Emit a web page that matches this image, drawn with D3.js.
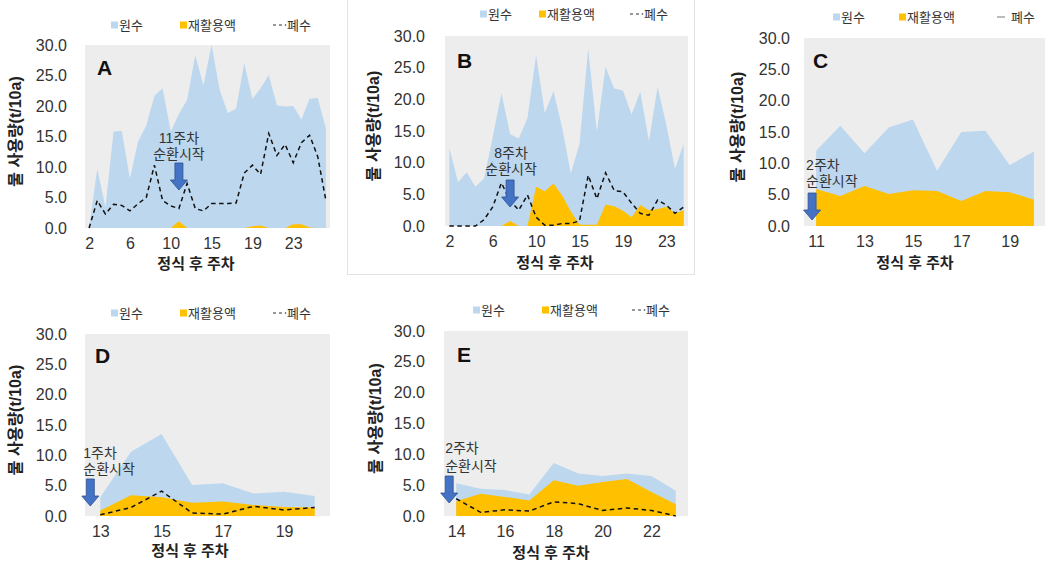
<!DOCTYPE html>
<html>
<head>
<meta charset="utf-8">
<script src="https://cdn.jsdelivr.net/npm/d3@7"></script>
<style>
  body { margin: 0; background: #fff; }
  svg text { font-family: "Liberation Sans", "Noto Sans CJK KR", sans-serif; }
</style>
</head>
<body>
<svg id="chart" width="1045" height="563"></svg>
<script>
// ---- data (t/10a) ----
// A: 30 sampling points, x labels shown every 5th point
const ticksA = ["2", "6", "10", "15", "19", "23"];
const rawA = [0, 9.7, 3.4, 15.8, 15.9, 8.1, 14.2, 16.8, 21.7, 22.9, 15.8, 18.7, 21.0, 28.3, 23.4, 30.0,
              22.6, 18.8, 19.6, 27.0, 21.2, 22.9, 25.1, 20.1, 19.9, 20.0, 17.8, 21.2, 21.3, 16.3];
const recA = [0, 0, 0, 0, 0, 0, 0, 0, 0, 0, 0, 1.1, 0, 0, 0, 0, 0, 0, 0, 0,
              0.3, 0.4, 0, 0, 0, 0.6, 0.6, 0.1, 0, 0];
const wasteA = [0, 4.5, 2.3, 3.9, 3.7, 2.8, 4.0, 5.0, 10.3, 4.5, 3.6, 3.2, 7.3, 3.2, 2.8, 4.0,
                4.0, 4.0, 4.1, 9.0, 10.3, 8.8, 15.5, 11.9, 13.7, 10.7, 14.0, 15.2, 11.7, 4.5];

// B: 28 sampling points, x labels shown every 5th point
const ticksB = ["2", "6", "10", "15", "19", "23"];
const rawB = [12.3, 6.9, 8.5, 6.2, 7.5, 14.0, 21.0, 14.5, 13.8, 17.0, 27.0, 17.8, 21.3, 15.5,
              8.3, 13.0, 28.0, 14.9, 25.1, 21.7, 21.4, 17.6, 21.2, 13.4, 22.0, 16.0, 9.0, 13.0];
const recB = [0, 0, 0, 0, 0, 0, 0, 0.8, 0, 0, 6.2, 5.5, 6.7, 4.8,
              2.3, 0.2, 0.2, 0.2, 3.4, 3.1, 2.4, 1.4, 3.3, 2.5, 2.7, 3.0, 2.0, 2.5];
const wasteB = [0, 0, 0, 0, 1.0, 3.0, 6.8, 4.0, 2.5, 4.9, 1.4, 0.1, 0.1, 0.4,
                0.4, 0.8, 8.0, 4.3, 8.4, 5.6, 5.4, 3.6, 2.0, 1.7, 4.1, 3.3, 2.0, 3.0];

// C: weeks 11-20 (no 폐수 series drawn)
const weeksC = [11, 12, 13, 14, 15, 16, 17, 18, 19, 20];
const rawC = [12.0, 16.0, 11.6, 15.7, 17.0, 8.8, 15.0, 15.2, 9.7, 11.9];
const recC = [5.9, 4.8, 6.4, 5.1, 5.7, 5.6, 4.0, 5.6, 5.4, 4.2];

// D: weeks 13-20
const weeksD = [13, 14, 15, 16, 17, 18, 19, 20];
const rawD = [3.1, 10.6, 13.5, 5.1, 5.4, 3.7, 4.0, 3.3];
const recD = [0.9, 3.4, 3.1, 2.2, 2.4, 1.8, 1.5, 1.4];
const wasteD = [0.2, 1.4, 4.1, 0.5, 0.3, 1.6, 1.0, 1.4];

// E: weeks 14-23
const weeksE = [14, 15, 16, 17, 18, 19, 20, 21, 22, 23];
const rawE = [5.3, 4.4, 4.2, 3.5, 8.6, 6.9, 6.5, 6.9, 6.5, 4.1];
const recE = [2.4, 3.6, 3.1, 2.5, 5.8, 4.9, 5.5, 6.0, 3.9, 1.9];
const wasteE = [2.8, 0.6, 1.0, 0.8, 2.3, 2.0, 0.9, 1.3, 0.9, 0];

const yTicks = [0, 5, 10, 15, 20, 25, 30];
const legendNames = ["원수", "재활용액", "폐수"];
const yTitle = "물 사용량(t/10a)";
const xTitle = "정식 후 주차";

const colRaw = "#bdd7ee", colRec = "#ffc000", plotBg = "#ededed", arrowCol = "#4472c4";

// ---- layout ----
const panels = [
  { letter: "A", raw: rawA, rec: recA, waste: wasteA, tickStep: 5, tickText: ticksA,
    box: [85, 45, 330, 228], yLabX: 67, yTitX: 15, xTit: [196, 263], leg: [111, 180, 273], legY: 25,
    let: [97, 75], note: { i: 11, dx: 0, tip: 190, anchor: "middle", tx: 0, ty: [138, 154], text: ["11주차", "순환시작"] } },
  { letter: "B", raw: rawB, rec: recB, waste: wasteB, tickStep: 5, tickText: ticksB,
    box: [445, 36, 688, 226], yLabX: 425, yTitX: 373, xTit: [555, 262], leg: [480, 539, 630], legY: 14,
    let: [457, 68], note: { i: 7, dx: 0, tip: 207, anchor: "middle", tx: 1, ty: [153, 169], text: ["8주차", "순환시작"] } },
  { letter: "C", raw: rawC, rec: recC, waste: null, tickStep: 2, tickText: weeksC.filter((d, i) => i % 2 === 0),
    box: [804, 38, 1046, 226], yLabX: 790, yTitX: 737, xTit: [915, 262], leg: [833, 899, 997], legY: 17,
    let: [813, 68], note: { i: 0, dx: -4, tip: 220, anchor: "start", tx: -6, ty: [165, 181], text: ["2주차", "순환시작"] } },
  { letter: "D", raw: rawD, rec: recD, waste: wasteD, tickStep: 2, tickText: weeksD.filter((d, i) => i % 2 === 0),
    box: [85, 334, 330, 516], yLabX: 67, yTitX: 15, xTit: [190, 550], leg: [111, 180, 273], legY: 313,
    let: [95, 363], note: { i: 0, dx: -10, tip: 506, anchor: "start", tx: -7, ty: [453, 469], text: ["1주차", "순환시작"] } },
  { letter: "E", raw: rawE, rec: recE, waste: wasteE, tickStep: 2, tickText: weeksE.filter((d, i) => i % 2 === 0),
    box: [444, 331, 688, 516], yLabX: 425, yTitX: 375, xTit: [551, 552], leg: [473, 542, 632], legY: 310,
    let: [457, 362], note: { i: 0, dx: -7, tip: 503, anchor: "start", tx: -4, ty: [448, 466], text: ["2주차", "순환시작"] } }
];

const svg = d3.select("#chart");

// light frame around panel B
svg.append("rect")
  .attr("x", 347.5).attr("y", -1).attr("width", 347).attr("height", 275.5)
  .attr("fill", "none").attr("stroke", "#e3e3e3");

panels.forEach(p => {
  const [x0, y0, x1, y1] = p.box;
  const n = p.raw.length;
  const g = svg.append("g");

  const x = d3.scalePoint().domain(d3.range(n)).range([x0, x1]).padding(0.5);
  const y = d3.scaleLinear().domain([0, 30]).range([y1, y0]);

  g.append("rect").attr("x", x0).attr("y", y0)
    .attr("width", x1 - x0).attr("height", y1 - y0).attr("fill", plotBg);

  const area = vals => d3.area().x((d, i) => x(i)).y0(y(0)).y1(d => y(d))(vals);
  g.append("path").attr("d", area(p.raw)).attr("fill", colRaw);
  g.append("path").attr("d", area(p.rec)).attr("fill", colRec);

  if (p.waste) {
    g.append("path")
      .attr("d", d3.line().x((d, i) => x(i)).y(d => y(d))(p.waste))
      .attr("fill", "none").attr("stroke", "#111").attr("stroke-width", 1.5)
      .attr("stroke-dasharray", "4.5,3.5");
  }

  // y axis
  const yAxis = g.append("g")
    .attr("transform", `translate(${p.yLabX},0)`)
    .call(d3.axisLeft(y).tickValues(yTicks).tickSize(0).tickPadding(0).tickFormat(d3.format(".1f")));
  yAxis.select(".domain").remove();
  yAxis.selectAll("text").attr("font-size", 16).attr("fill", "#333")
    .attr("font-family", "Liberation Sans, sans-serif");

  // x axis
  const tickIdx = d3.range(0, n, p.tickStep).slice(0, p.tickText.length);
  const xAxis = g.append("g")
    .attr("transform", `translate(0,${y1 + 10})`)
    .call(d3.axisBottom(x).tickValues(tickIdx).tickSize(0).tickPadding(0)
      .tickFormat((d, i) => p.tickText[i]));
  xAxis.select(".domain").remove();
  xAxis.selectAll("text").attr("font-size", 16).attr("fill", "#333")
    .attr("font-family", "Liberation Sans, sans-serif");

  // titles
  g.append("text")
    .attr("transform", `translate(${p.yTitX},${(y0 + y1) / 2 - 5}) rotate(-90)`)
    .attr("text-anchor", "middle").attr("dominant-baseline", "central")
    .attr("font-size", 16).attr("font-weight", "bold").attr("fill", "#222")
    .text(yTitle);
  g.append("text")
    .attr("x", p.xTit[0]).attr("y", p.xTit[1])
    .attr("text-anchor", "middle").attr("dominant-baseline", "central")
    .attr("font-size", 15).attr("font-weight", "bold").attr("fill", "#222")
    .text(xTitle);

  // panel letter
  g.append("text").attr("x", p.let[0]).attr("y", p.let[1])
    .attr("font-size", 21).attr("font-weight", "bold").attr("fill", "#111")
    .text(p.letter);

  // legend
  const ly = p.legY;
  [colRaw, colRec].forEach((c, k) => {
    g.append("rect").attr("x", p.leg[k]).attr("y", ly - 3.5).attr("width", 7).attr("height", 7).attr("fill", c);
    g.append("text").attr("x", p.leg[k] + 8).attr("y", ly)
      .attr("dominant-baseline", "central").attr("font-size", 13).attr("fill", "#333")
      .text(legendNames[k]);
  });
  if (p.waste) {
    g.append("line").attr("x1", p.leg[2]).attr("x2", p.leg[2] + 10).attr("y1", ly).attr("y2", ly)
      .attr("stroke", "#333").attr("stroke-width", 1.2).attr("stroke-dasharray", "3,3");
    g.append("circle").attr("cx", p.leg[2] + 12.5).attr("cy", ly).attr("r", 0.8).attr("fill", "#333");
  } else {
    g.append("line").attr("x1", p.leg[2]).attr("x2", p.leg[2] + 8).attr("y1", ly).attr("y2", ly)
      .attr("stroke", "#777").attr("stroke-width", 1);
  }
  g.append("text").attr("x", p.leg[2] + 14).attr("y", ly)
    .attr("dominant-baseline", "central").attr("font-size", 13).attr("fill", "#333")
    .text(legendNames[2]);

  // recirculation start annotation
  const nt = p.note;
  const cx = x(nt.i) + nt.dx, tip = nt.tip;
  g.append("path")
    .attr("d", `M${cx - 4},${tip - 27}L${cx + 4},${tip - 27}L${cx + 4},${tip - 10}L${cx + 8.5},${tip - 10}` +
               `L${cx},${tip}L${cx - 8.5},${tip - 10}L${cx - 4},${tip - 10}Z`)
    .attr("fill", arrowCol).attr("stroke", "#2f528f").attr("stroke-width", 0.8);
  nt.text.forEach((t, k) => {
    g.append("text").attr("x", cx + nt.tx).attr("y", nt.ty[k])
      .attr("text-anchor", nt.anchor).attr("dominant-baseline", "central")
      .attr("font-size", 14).attr("fill", "#333")
      .text(t);
  });
});
</script>
</body>
</html>
